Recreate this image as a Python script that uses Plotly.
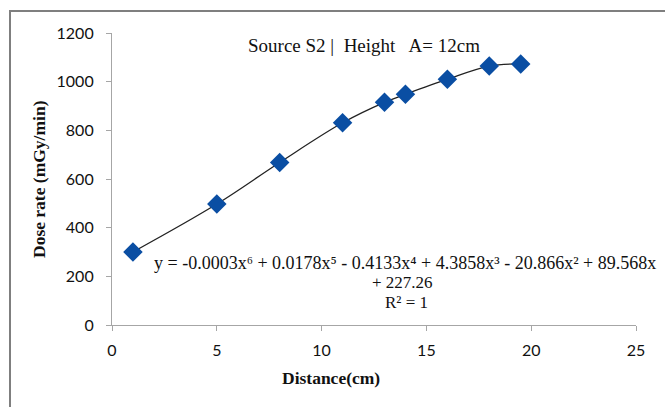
import plotly.graph_objects as go

# Measured dose rate versus distance (source S2, height A = 12 cm)
distance_cm = [1, 5, 8, 11, 13, 14, 16, 18, 19.5]
dose_rate = [300, 497, 668, 831, 915, 948, 1010, 1064, 1073]

x_ticks = [0, 5, 10, 15, 20, 25]
y_ticks = [0, 200, 400, 600, 800, 1000, 1200]

title_text = "Source S2 |  Height   A= 12cm"
equation_lines = [
    "y = -0.0003x⁶ + 0.0178x⁵ - 0.4133x⁴ + 4.3858x³ - 20.866x² + 89.568x",
    "+ 227.26",
    "R² = 1",
]

W, H = 665, 407
L, R, T, B = 112, 29, 33, 82
pw, ph = W - L - R, H - T - B

fig = go.Figure()
# smooth trendline through the measurements
fig.add_trace(go.Scatter(x=distance_cm, y=dose_rate, mode="lines",
                         line=dict(color="#222222", width=1.3, shape="spline",
                                   smoothing=1.0),
                         hoverinfo="skip", showlegend=False))
fig.add_trace(go.Scatter(x=distance_cm, y=dose_rate, mode="markers",
                         marker=dict(symbol="diamond", size=15, color="#0a4ea3",
                                     line=dict(width=0)),
                         showlegend=False))

axis_common = dict(showgrid=False, zeroline=False, showline=True,
                   linecolor="#a6a6a6", linewidth=1.2, ticks="outside",
                   ticklen=5, tickcolor="#a6a6a6",
                   tickfont=dict(family="Lato", size=16, color="#111111"))

fig.update_xaxes(range=[0, 25], tickvals=x_ticks, ticklabelstandoff=6, **axis_common)
fig.update_yaxes(range=[0, 1200], tickvals=y_ticks, ticklabelstandoff=9, **axis_common)


def px_x(p):
    return (p - L) / pw


def px_y(p):
    return (H - B - p) / ph


serif = "Liberation Serif"


def label(text, x, y, size, bold=False, angle=0):
    fig.add_annotation(text=f"<b>{text}</b>" if bold else text,
                       xref="paper", yref="paper", x=px_x(x), y=px_y(y),
                       xanchor="center", yanchor="middle", showarrow=False,
                       textangle=angle,
                       font=dict(family=serif, size=size, color="#111111"))


label(title_text, 364, 45, 19)
label(equation_lines[0], 405, 263, 18)
label(equation_lines[1], 402, 282, 17)
label(equation_lines[2], 406, 302, 17)
label("Distance(cm)", 331, 378, 17.5, bold=True)
label("Dose rate (mGy/min)", 39, 179, 17.5, bold=True, angle=-90)

# Outer chart border (left and top edges visible)
fig.add_shape(type="rect", xref="paper", yref="paper",
              x0=px_x(10), x1=px_x(900), y0=px_y(700), y1=px_y(11),
              line=dict(color="#7f7f7f", width=2), layer="below")

fig.update_layout(width=W, height=H,
                  margin=dict(l=L, r=R, t=T, b=B),
                  plot_bgcolor="white", paper_bgcolor="white")

fig.write_html("out.html")
